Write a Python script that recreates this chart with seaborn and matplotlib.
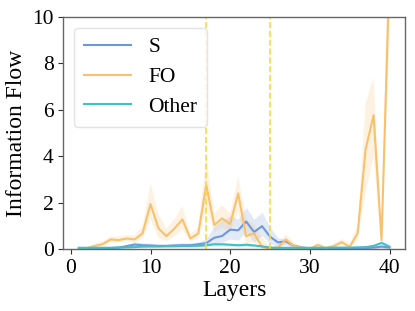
import numpy as np
import pandas as pd
import matplotlib
matplotlib.use("Agg")
import matplotlib.pyplot as plt
import seaborn as sns

layers = list(range(1, 41))

s_mean = [0.05, 0.05, 0.05, 0.05, 0.06, 0.08, 0.14, 0.21, 0.18, 0.17,
          0.15, 0.15, 0.17, 0.18, 0.18, 0.22, 0.27, 0.50, 0.58, 0.85,
          0.82, 1.20, 0.75, 1.00, 0.55, 0.30, 0.35, 0.15, 0.08, 0.05,
          0.05, 0.05, 0.05, 0.05, 0.05, 0.05, 0.06, 0.08, 0.12, 0.08]
s_lo = [0.03, 0.03, 0.03, 0.03, 0.04, 0.05, 0.08, 0.13, 0.11, 0.10,
        0.09, 0.09, 0.10, 0.10, 0.10, 0.13, 0.15, 0.25, 0.30, 0.45,
        0.40, 0.75, 0.30, 0.60, 0.25, 0.15, 0.20, 0.05, 0.03, 0.02,
        0.02, 0.02, 0.02, 0.02, 0.02, 0.02, 0.03, 0.04, 0.06, 0.04]
s_hi = [0.07, 0.07, 0.07, 0.07, 0.08, 0.12, 0.22, 0.32, 0.28, 0.27,
        0.24, 0.24, 0.26, 0.28, 0.28, 0.33, 0.45, 1.00, 1.25, 1.45,
        1.30, 1.80, 1.30, 1.60, 0.95, 0.50, 0.45, 0.25, 0.14, 0.08,
        0.08, 0.08, 0.08, 0.08, 0.08, 0.08, 0.09, 0.12, 0.20, 0.12]

fo_mean = [0.05, 0.05, 0.15, 0.23, 0.43, 0.40, 0.47, 0.43, 0.69, 1.95,
           0.90, 0.57, 0.90, 1.29, 0.47, 0.69, 2.77, 1.05, 1.33, 1.09,
           2.41, 0.57, 0.69, 0.11, 0.04, 0.08, 0.43, 0.14, 0.07, 0.03,
           0.19, 0.06, 0.14, 0.31, 0.11, 0.69, 4.30, 5.77, 0.40, 12.0]
fo_lo = [0.02, 0.02, 0.08, 0.12, 0.30, 0.30, 0.35, 0.30, 0.45, 1.30,
         0.50, 0.35, 0.55, 0.85, 0.35, 0.45, 1.75, 0.75, 0.95, 0.75,
         1.60, 0.20, 0.35, 0.02, 0.00, 0.02, 0.25, 0.05, 0.02, 0.00,
         0.10, 0.02, 0.06, 0.18, 0.05, 0.40, 2.40, 4.00, 0.25, 9.0]
fo_hi = [0.10, 0.10, 0.25, 0.35, 0.55, 0.55, 0.62, 0.60, 1.00, 2.85,
         1.50, 0.90, 1.30, 1.85, 0.65, 0.95, 4.00, 1.55, 1.90, 1.55,
         3.15, 1.30, 1.10, 0.50, 0.15, 0.20, 0.65, 0.30, 0.15, 0.08,
         0.30, 0.12, 0.25, 0.45, 0.25, 1.00, 6.30, 7.40, 0.60, 15.0]

o_mean = [0.07, 0.07, 0.07, 0.07, 0.07, 0.08, 0.09, 0.10, 0.12, 0.13,
          0.13, 0.14, 0.14, 0.15, 0.15, 0.16, 0.18, 0.22, 0.22, 0.20,
          0.18, 0.20, 0.17, 0.13, 0.08, 0.07, 0.07, 0.07, 0.07, 0.07,
          0.07, 0.07, 0.08, 0.08, 0.08, 0.09, 0.10, 0.15, 0.28, 0.12]
o_lo = [v * 0.65 for v in o_mean]
o_hi = [v * 1.35 for v in o_mean]

vlines = [17, 25]

colors = {"S": "#6f97dc", "FO": "#f7c16e", "Other": "#3fc1c6"}

plt.rcParams['font.family'] = ['Liberation Serif', 'DejaVu Serif']
fig = plt.figure(figsize=(4.15, 3.11), dpi=100)
ax = fig.add_axes([0.1525, 0.198, 0.8235, 0.748])

rows = []
for name, vals in (("S", s_mean), ("FO", fo_mean), ("Other", o_mean)):
    for l, v in zip(layers, vals):
        rows.append({"Layer": l, "Value": v, "Group": name})
df = pd.DataFrame(rows)

sns.lineplot(data=df, x="Layer", y="Value", hue="Group", palette=colors,
             linewidth=1.5, ax=ax, errorbar=None)
for name, lo, hi in (("S", s_lo, s_hi), ("FO", fo_lo, fo_hi), ("Other", o_lo, o_hi)):
    ax.fill_between(layers, lo, hi, color=colors[name], alpha=0.2, linewidth=0)

for x in vlines:
    ax.axvline(x, color="#ffd83a", linestyle="--", linewidth=1.2)

ax.set_xlim(-0.95, 41.95)
ax.set_ylim(0, 10)
ax.set_xticks([0, 10, 20, 30, 40])
ax.set_yticks([0, 2, 4, 6, 8, 10])
ax.tick_params(labelsize=15.5, length=3.5, color="#333333")
ax.set_xlabel("Layers", fontsize=17, labelpad=1)
ax.set_ylabel("Information Flow", fontsize=17, labelpad=4)
for sp in ax.spines.values():
    sp.set_color("#666666")
    sp.set_linewidth(1.0)

leg = ax.legend(loc="upper left", fontsize=15.5, frameon=True, fancybox=True,
                handlelength=2.2, borderpad=0.45, labelspacing=0.45,
                handletextpad=0.8, borderaxespad=0.5)
leg.get_frame().set_edgecolor("#dddddd")
fig.savefig("out.png", dpi=100)
